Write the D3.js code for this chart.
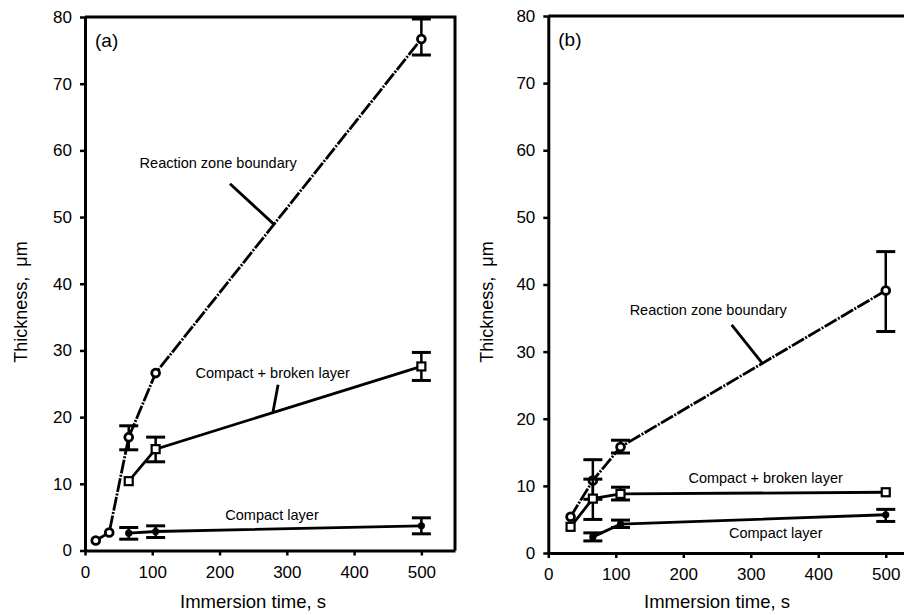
<!DOCTYPE html>
<html>
<head>
<meta charset="utf-8">
<title>Thickness vs immersion time</title>
<script src="https://cdn.jsdelivr.net/npm/d3@7"></script>
<style>
  html, body { margin: 0; padding: 0; background: #fff; }
  svg { display: block; font-family: "Liberation Sans", Arial, sans-serif; }
  .tick text { font-size: 17px; fill: #000; }
</style>
</head>
<body>
<svg id="chart" width="904" height="615"></svg>
<script>
// ---- data ----
var xTicks = [0, 100, 200, 300, 400, 500];
var yTicks = [0, 10, 20, 30, 40, 50, 60, 70, 80];

// panel (a)
var aReactT  = [16, 36, 65, 105, 500];
var aReactY  = [1.5, 2.7, 17.0, 26.6, 76.7];
var aReactLo = [null, null, 15.1, null, 74.3];
var aReactHi = [null, null, 18.7, null, 79.7];

var aBrokenT  = [65, 105, 500];
var aBrokenY  = [10.4, 15.2, 27.6];
var aBrokenLo = [null, 13.3, 25.5];
var aBrokenHi = [null, 17.0, 29.7];

var aCompT  = [65, 105, 500];
var aCompY  = [2.6, 2.85, 3.7];
var aCompLo = [1.7, 1.95, 2.5];
var aCompHi = [3.45, 3.7, 4.9];

// panel (b)
var bReactT  = [33, 66, 107, 500];
var bReactY  = [5.4, 10.8, 15.8, 39.1];
var bReactLo = [null, 8.0, 14.9, 33.0];
var bReactHi = [null, 13.9, 16.8, 44.9];

var bBrokenT  = [33, 66, 107, 500];
var bBrokenY  = [3.9, 8.1, 8.8, 9.05];
var bBrokenLo = [null, 5.0, 7.9, null];
var bBrokenHi = [null, 11.0, 9.8, null];

var bCompT  = [66, 107, 500];
var bCompY  = [2.4, 4.3, 5.7];
var bCompLo = [1.8, 3.8, 4.7];
var bCompHi = [3.0, 4.9, 6.5];

// annotation text: [label, x, y] in data units, leaders [x1, y1, x2, y2]
var aLabels = [["Reaction zone boundary", 198, 57.3], ["Compact + broken layer", 279, 25.9], ["Compact layer", 278, 4.6]];
var aLeaders = [[215.5, 55.0, 281, 48.9], [287, 24.85, 279.3, 20.7]];
var bLabels = [["Reaction zone boundary", 237, 35.5], ["Compact + broken layer", 322, 10.4], ["Compact layer", 337, 2.2]];
var bLeaders = [[271.7, 34.0, 316, 28.4]];

var svg = d3.select("#chart");

function series(t, y, lo, hi) {
    return t.map(function (d, i) { return { t: d, y: y[i], lo: lo[i], hi: hi[i] }; });
}

function panel(opt) {
    var x = d3.scaleLinear().domain([0, 550]).range([opt.left, opt.right]);
    var y = d3.scaleLinear().domain([0, 80]).range([opt.bottom, opt.top]);
    var g = svg.append("g");

    // frame top + right
    g.append("path")
        .attr("d", "M" + x(0) + "," + y(80) + "H" + x(550) + "V" + y(0))
        .attr("fill", "none").attr("stroke", "#000").attr("stroke-width", 3);

    var ax = g.append("g").attr("transform", "translate(0," + y(0) + ")")
        .call(d3.axisBottom(x).tickValues(xTicks).tickSize(5).tickPadding(10).tickSizeOuter(0));
    var ay = g.append("g").attr("transform", "translate(" + x(0) + ",0)")
        .call(d3.axisLeft(y).tickValues(yTicks).tickSize(5).tickPadding(8).tickSizeOuter(0));
    [ax, ay].forEach(function (a) {
        a.select(".domain").attr("stroke-width", 3);
        a.selectAll(".tick line").attr("stroke-width", 2.5);
        a.selectAll(".tick text").attr("fill", "#000")
            .style("font-family", "Liberation Sans, Arial, sans-serif");
    });

    var line = d3.line().x(function (d) { return x(d.t); }).y(function (d) { return y(d.y); });

    opt.sets.forEach(function (s) {
        var data = series(s.t, s.y, s.lo, s.hi);
        g.append("path").datum(data)
            .attr("d", line).attr("fill", "none").attr("stroke", "#000")
            .attr("stroke-width", 2.8)
            .attr("stroke-dasharray", s.dash || null);

        var eb = data.filter(function (d) { return d.lo != null; });
        var e = g.selectAll(null).data(eb).enter().append("g");
        e.append("line")
            .attr("x1", function (d) { return x(d.t); }).attr("x2", function (d) { return x(d.t); })
            .attr("y1", function (d) { return y(d.lo); }).attr("y2", function (d) { return y(d.hi); })
            .attr("stroke", "#000").attr("stroke-width", 2.5);
        ["lo", "hi"].forEach(function (k) {
            e.append("line")
                .attr("x1", function (d) { return x(d.t) - 9.5; }).attr("x2", function (d) { return x(d.t) + 9.5; })
                .attr("y1", function (d) { return y(d[k]); }).attr("y2", function (d) { return y(d[k]); })
                .attr("stroke", "#000").attr("stroke-width", 3);
        });

        var m = g.selectAll(null).data(data).enter();
        if (s.marker === "circle") {
            m.append("circle").attr("cx", function (d) { return x(d.t); }).attr("cy", function (d) { return y(d.y); })
                .attr("r", 3.9).attr("fill", "#fff").attr("stroke", "#000").attr("stroke-width", 2.8);
        } else if (s.marker === "square") {
            m.append("rect").attr("x", function (d) { return x(d.t) - 4; }).attr("y", function (d) { return y(d.y) - 4; })
                .attr("width", 8).attr("height", 8).attr("fill", "#fff").attr("stroke", "#000").attr("stroke-width", 2.2);
        } else {
            m.append("circle").attr("cx", function (d) { return x(d.t); }).attr("cy", function (d) { return y(d.y); })
                .attr("r", 3.6).attr("fill", "#000");
        }
    });

    opt.leaders.forEach(function (l) {
        g.append("line").attr("x1", x(l[0])).attr("y1", y(l[1])).attr("x2", x(l[2])).attr("y2", y(l[3]))
            .attr("stroke", "#000").attr("stroke-width", 2.8);
    });
    opt.labels.forEach(function (l) {
        g.append("text").attr("x", x(l[1])).attr("y", y(l[2])).attr("text-anchor", "middle")
            .attr("font-size", "14.5px").attr("fill", "#000").text(l[0]);
    });

    g.append("text").attr("x", x(0) + 10).attr("y", y(80) + 30)
        .attr("font-size", "19px").attr("fill", "#000").text(opt.tag);

    g.append("text").attr("x", opt.titleX).attr("y", 608).attr("text-anchor", "middle")
        .attr("font-size", "18.5px").attr("fill", "#000").text("Immersion time, s");
    g.append("text").attr("transform", "translate(" + opt.ytitleX + "," + 302 + ") rotate(-90)")
        .attr("text-anchor", "middle").attr("font-size", "18px").attr("fill", "#000")
        .style("white-space", "pre").text("Thickness,  \u03bcm");
}

var reactDash = "14,1.5,2,1.5";

panel({
    left: 85, right: 455, top: 17, bottom: 550.5, tag: "(a)", titleX: 253, ytitleX: 27,
    sets: [
        { t: aReactT, y: aReactY, lo: aReactLo, hi: aReactHi, marker: "circle", dash: reactDash },
        { t: aBrokenT, y: aBrokenY, lo: aBrokenLo, hi: aBrokenHi, marker: "square" },
        { t: aCompT, y: aCompY, lo: aCompLo, hi: aCompHi, marker: "dot" }
    ],
    labels: aLabels, leaders: aLeaders
});

panel({
    left: 548.3, right: 919.5, top: 16, bottom: 553, tag: "(b)", titleX: 717, ytitleX: 493,
    sets: [
        { t: bReactT, y: bReactY, lo: bReactLo, hi: bReactHi, marker: "circle", dash: reactDash },
        { t: bBrokenT, y: bBrokenY, lo: bBrokenLo, hi: bBrokenHi, marker: "square" },
        { t: bCompT, y: bCompY, lo: bCompLo, hi: bCompHi, marker: "dot" }
    ],
    labels: bLabels, leaders: bLeaders
});
</script>
</body>
</html>
